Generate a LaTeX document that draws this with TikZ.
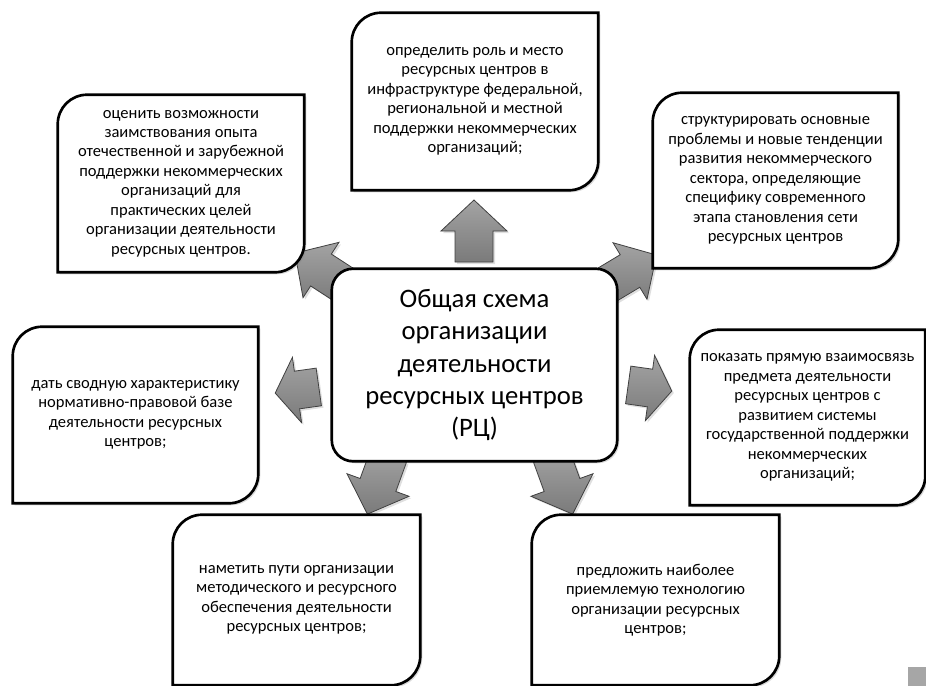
\documentclass[tikz,border=0pt]{standalone}
\usepackage{fontspec}
\setmainfont{Carlito}
\usetikzlibrary{shadows, backgrounds}

\tikzset{
  goal/.style={align=center, inner sep=0pt, font=\fontsize{12.4}{14.6}\selectfont},
  frame/.style={draw=black, line width=2pt, fill=white,
    drop shadow={shadow xshift=1.5pt, shadow yshift=-1.5pt, opacity=0.3}},
  pointer/.style={draw=black!75, line width=0.6pt, top color=black!36, bottom color=black!52,
    drop shadow={shadow xshift=1.5pt, shadow yshift=-1.5pt, opacity=0.25}}
}

% box with two round and two square corners
\newcommand\goalframe[1]{\draw[frame] (#1.north east) [rounded corners=22pt] -- (#1.south east) [sharp corners] -- (#1.south west) [rounded corners=22pt] -- (#1.north west) [sharp corners] -- cycle;}
% block arrow: centre x, centre y, angle, half length
\newcommand\blockarrow[4]{\draw[pointer, shift={(#1,#2)}, rotate=#3] (-#4,-19) -- (0,-19) -- (0,-33) -- (#4,0) -- (0,33) -- (0,19) -- (-#4,19) -- cycle;}

\begin{document}
\begin{tikzpicture}[x=0.75pt, y=-0.75pt]
\useasboundingbox (0,0) rectangle (926,686);

% centre
\node[goal, font=\fontsize{20}{24.2}\selectfont, minimum width=213.75pt, minimum height=144pt] (rc) at (474.5,365) {Общая схема\\организации\\деятельности\\ресурсных центров\\(РЦ)};

% goals
\node[goal, minimum width=184.5pt, minimum height=132.75pt] (role) at (475,101.5) {определить роль и место\\ресурсных центров в\\инфраструктуре федеральной,\\региональной и местной\\поддержки некоммерческих\\организаций;};
\node[goal, minimum width=184.5pt, minimum height=132.75pt] (borrow) at (181,183.5) {оценить возможности\\заимствования опыта\\отечественной и зарубежной\\поддержки некоммерческих\\организаций для\\практических целей\\организации деятельности\\ресурсных центров.};
\node[goal, minimum width=183.75pt, minimum height=131.25pt] (trends) at (775.5,180.5) {структурировать основные\\проблемы и новые тенденции\\развития некоммерческого\\сектора, определяющие\\специфику современного\\этапа становления сети\\ресурсных центров};
\node[goal, minimum width=183.75pt, minimum height=132pt] (law) at (135.5,415) {дать сводную характеристику\\нормативно-правовой базе\\деятельности ресурсных\\центров;};
\node[goal, minimum width=176.25pt, minimum height=131.25pt] (link) at (807.5,417.5) {показать прямую взаимосвязь\\предмета деятельности\\ресурсных центров с\\развитием системы\\государственной поддержки\\некоммерческих\\организаций;};
\node[goal, minimum width=185.25pt, minimum height=127.5pt] (method) at (296.5,600) {наметить пути организации\\методического и ресурсного\\обеспечения деятельности\\ресурсных центров;};
\node[goal, minimum width=185.25pt, minimum height=127.5pt] (techn) at (655.5,600) {предложить наиболее\\приемлемую технологию\\организации ресурсных\\центров;};

\begin{scope}[on background layer]
% arrows
\blockarrow{474}{231}{90}{31}
\blockarrow{321}{270}{147}{31}
\blockarrow{630}{271}{31}{31}
\blockarrow{297}{390}{188}{22}
\blockarrow{650}{388}{-8}{22}
\blockarrow{378}{485}{250}{31}
\blockarrow{562}{485}{-70}{31}
% frames
\foreach \g in {role,borrow,trends,law,link,method,techn}
  \goalframe{\g};
\draw[frame, rounded corners=16pt] (rc.north west) rectangle (rc.south east);
\end{scope}

\fill[black!35] (908,667) rectangle (926,686);
\end{tikzpicture}
\end{document}
